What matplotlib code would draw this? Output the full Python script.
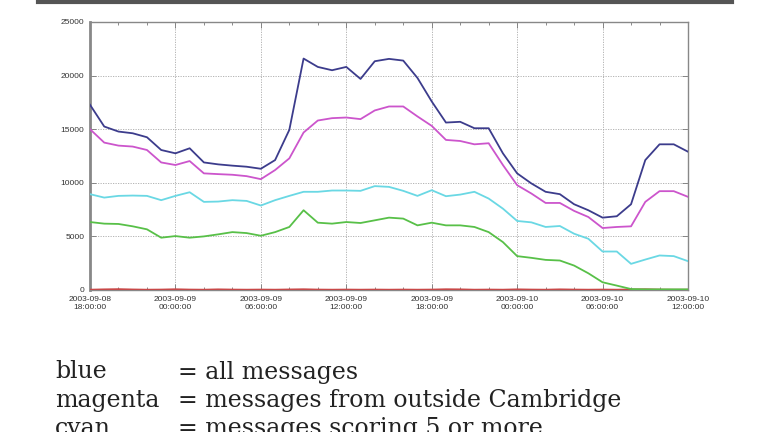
import matplotlib
matplotlib.use("Agg")
import matplotlib.pyplot as plt
from matplotlib.ticker import MultipleLocator

# hours since 2003-09-08 18:00:00 (hourly samples)
hours = list(range(43))

blue = [17280, 15250, 14780, 14620, 14250, 13060, 12750, 13220, 11900, 11720, 11600,
        11500, 11310, 12120, 14940, 21590, 20810, 20500, 20810, 19690, 21340, 21560,
        21400, 19780, 17590, 15620, 15690, 15090, 15090, 12750, 10880, 9940,
        9160, 8940, 8000, 7440, 6750, 6880, 8000, 12120, 13590, 13590, 12900]
magenta = [15000, 13750, 13470, 13380, 13060, 11900, 11660, 12030, 10880, 10810, 10750,
           10620, 10340, 11190, 12280, 14690, 15810, 16030, 16090, 15940, 16750, 17120,
           17120, 16190, 15310, 14000, 13900, 13590, 13690, 11660, 9780, 9000,
           8120, 8120, 7380, 6810, 5780, 5880, 5940, 8220, 9220, 9220, 8690]
cyan = [8940, 8620, 8780, 8810, 8780, 8380, 8780, 9120, 8220, 8250, 8380,
        8310, 7880, 8380, 8780, 9160, 9160, 9280, 9280, 9250, 9690, 9620,
        9250, 8780, 9310, 8750, 8900, 9160, 8530, 7590, 6440, 6310,
        5880, 5970, 5250, 4780, 3590, 3590, 2440, 2840, 3220, 3160, 2690]
green = [6340, 6190, 6160, 5940, 5660, 4880, 5030, 4880, 5000, 5190, 5400,
         5310, 5060, 5400, 5880, 7440, 6280, 6190, 6340, 6250, 6500, 6750,
         6660, 6030, 6280, 6030, 6030, 5880, 5400, 4470, 3160, 3000,
         2810, 2750, 2280, 1560, 720, 410, 90, 60, 60, 60, 60]
red = [30, 60, 80, 50, 30, 40, 70, 40, 30, 60, 40,
       30, 40, 30, 50, 70, 40, 30, 40, 30, 40, 30,
       40, 30, 40, 70, 60, 30, 40, 30, 60, 40,
       30, 60, 40, 30, 40, 30, 50, 70, 40, 30, 30]

xtick_pos = [0, 6, 12, 18, 24, 30, 36, 42]
xtick_labels = ["2003-09-08\n18:00:00", "2003-09-09\n00:00:00", "2003-09-09\n06:00:00",
                "2003-09-09\n12:00:00", "2003-09-09\n18:00:00", "2003-09-10\n00:00:00",
                "2003-09-10\n06:00:00", "2003-09-10\n12:00:00"]
ytick_vals = [0, 5000, 10000, 15000, 20000, 25000]

legend_names = ["blue", "magenta", "cyan"]
legend_desc = ["all messages", "messages from outside Cambridge", "messages scoring 5 or more"]

fig = plt.figure(figsize=(7.68, 4.32), dpi=100)
fig.patch.set_facecolor("white")

# top dark bar
fig.add_artist(plt.Line2D([38 / 768, 732 / 768], [1 - 1.5 / 432, 1 - 1.5 / 432],
                          color="#555555", lw=3.0, transform=fig.transFigure))

ax = fig.add_axes([90 / 768, 1 - 290 / 432, 598 / 768, 268 / 432])
ax.plot(hours, red, color="#c84848", lw=1.3, zorder=3)
ax.plot(hours, green, color="#58c048", lw=1.3, zorder=3)
ax.plot(hours, cyan, color="#6ad8e4", lw=1.3, zorder=3)
ax.plot(hours, magenta, color="#cc55cc", lw=1.3, zorder=3)
ax.plot(hours, blue, color="#3c3c8c", lw=1.3, zorder=3)

ax.set_xlim(0, 42)
ax.set_ylim(0, 25000)
ax.set_xticks(xtick_pos)
ax.set_xticklabels(xtick_labels, fontsize=6, family="Liberation Sans", color="#333333",
                   linespacing=1.2)
ax.xaxis.set_minor_locator(MultipleLocator(2))
ax.set_yticks(ytick_vals)
ax.set_yticklabels([str(v) for v in ytick_vals], fontsize=6, family="Liberation Sans",
                   color="#333333")
ax.tick_params(axis="both", which="both", direction="in", top=True, right=True,
               color="#777777", width=0.6)
ax.tick_params(axis="both", which="major", length=4, pad=4)
ax.tick_params(axis="x", which="minor", length=2.5)
ax.grid(True, which="major", color="#aaaaaa", lw=0.6, ls=(0, (1.5, 1.5)))
for s in ["top", "right", "bottom"]:
    ax.spines[s].set_color("#888888")
    ax.spines[s].set_linewidth(1.0)
ax.spines["left"].set_color("#888888")
ax.spines["left"].set_linewidth(2.0)

# legend text below
rows_y = [372, 400, 429]
for name, desc, yy in zip(legend_names, legend_desc, rows_y):
    fig.text(55 / 768, 1 - yy / 432, name, fontsize=17, family="DejaVu Serif",
             color="#222222", va="center", ha="left")
    fig.text(178 / 768, 1 - yy / 432, "= " + desc, fontsize=17, family="DejaVu Serif",
             color="#222222", va="center", ha="left")

fig.savefig("out.png", dpi=100, facecolor="white")
